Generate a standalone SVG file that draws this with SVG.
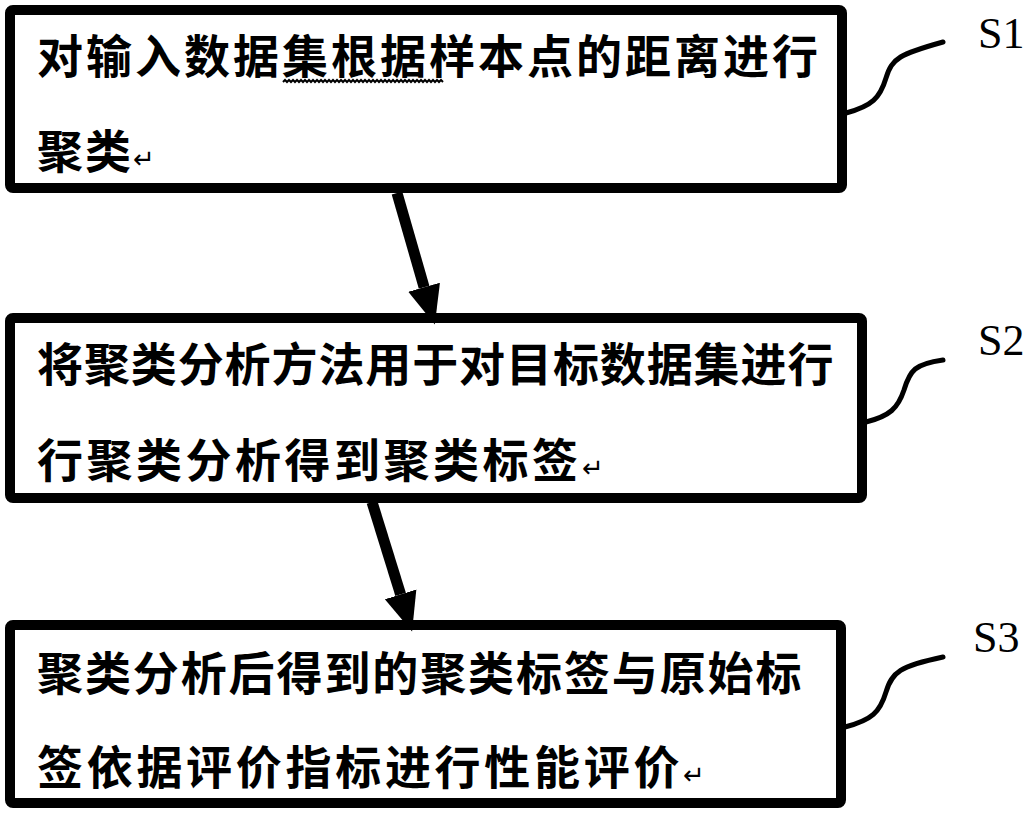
<svg xmlns="http://www.w3.org/2000/svg" width="1033" height="813" viewBox="0 0 1033 813">
<style>
.box{fill:#fff;stroke:#000;stroke-width:10;stroke-linejoin:round}
.t{font-family:"Noto Sans CJK SC","Noto Sans CJK TC",sans-serif;font-size:46px;font-weight:700;fill:#000}
.ret{font-size:26px;font-weight:400}
.lab{font-family:"Liberation Serif","Times New Roman",serif;font-size:44px;fill:#000}
.lead{fill:none;stroke:#000;stroke-width:5;stroke-linecap:round}
.arr{stroke:#000;stroke-width:11;fill:none}
</style>
<defs>
<marker id="ah" markerUnits="userSpaceOnUse" markerWidth="40" markerHeight="40" viewBox="0 -16 34 32" refX="0" refY="0" orient="auto">
<path d="M0,-14 L33,0 L0,14 z" fill="#000"/>
</marker>
</defs>
<rect width="1033" height="813" fill="#fff"/>
<g id="node-s1">
<rect class="box" x="10" y="10" width="832" height="178" rx="3"/>
<text class="t" x="37" y="73" letter-spacing="3">对输入数据集根据样本点的距离进行</text>
<path d="M283,82 l2,-2 l2,2 l2,-2 l2,2 l2,-2 l2,2 l2,-2 l2,2 l2,-2 l2,2 l2,-2 l2,2 l2,-2 l2,2 l2,-2 l2,2 l2,-2 l2,2 l2,-2 l2,2 l2,-2 l2,2 l2,-2 l2,2 l2,-2 l2,2 l2,-2 l2,2 l2,-2 l2,2 l2,-2 l2,2 l2,-2 l2,2 l2,-2 l2,2 l2,-2 l2,2 l2,-2 l2,2 l2,-2 l2,2 l2,-2 l2,2 l2,-2 l2,2 l2,-2 l2,2 l2,-2 l2,2 l2,-2 l2,2 l2,-2 l2,2 l2,-2 l2,2 l2,-2 l2,2 l2,-2 l2,2 l2,-2 l2,2 l2,-2 l2,2 l2,-2 l2,2 l2,-2 l2,2 l2,-2 l2,2 l2,-2 l2,2 l2,-2 l2,2 l2,-2 l2,2 l2,-2 l2,2 l2,-2 l2,2" fill="none" stroke="#000" stroke-width="2"/>
<text class="t" x="37" y="168" letter-spacing="2">聚类<tspan class="ret">↵</tspan></text>
<text class="lab" x="978" y="48">S1</text>
</g>
<g id="node-s2">
<rect class="box" x="10" y="318" width="852" height="180" rx="3"/>
<text class="t" x="37" y="381" letter-spacing="0.9">将聚类分析方法用于对目标数据集进行</text>
<text class="t" x="37" y="477" letter-spacing="3.5">行聚类分析得到聚类标签<tspan class="ret">↵</tspan></text>
<text class="lab" x="978" y="355">S2</text>
</g>
<g id="node-s3">
<rect class="box" x="10" y="625" width="831" height="178" rx="3"/>
<text class="t" x="37" y="690" letter-spacing="1.9">聚类分析后得到的聚类标签与原始标</text>
<text class="t" x="37" y="784" letter-spacing="3.7">签依据评价指标进行性能评价<tspan class="ret">↵</tspan></text>
<text class="lab" x="973" y="652">S3</text>
</g>
<g id="connectors">
<line class="arr" x1="397" y1="193" x2="424.1" y2="287.2" marker-end="url(#ah)"/>
<line class="arr" x1="372" y1="502" x2="400.6" y2="594.4" marker-end="url(#ah)"/>
<path class="lead" d="M846,113 C872,106 880,98 886,78 C892,58 900,54 943,42"/>
<path class="lead" d="M866,422 C890,416 898,408 904,390 C910,370 915,364 943,360"/>
<path class="lead" d="M845,727 C872,720 880,712 886,692 C892,672 900,666 943,657"/>
</g>
</svg>
